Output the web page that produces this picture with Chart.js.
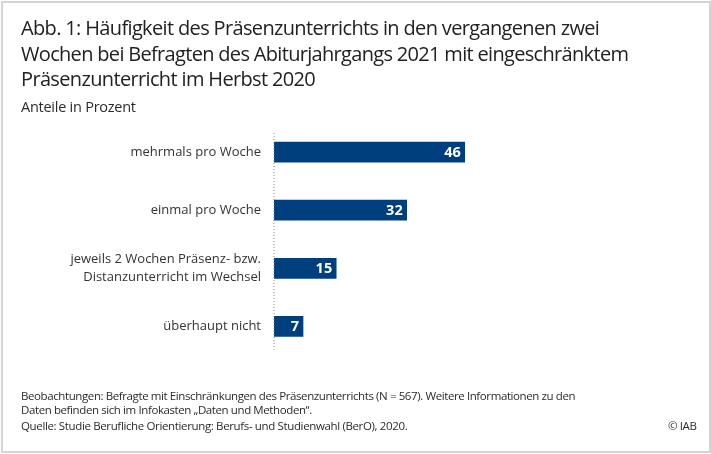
<!DOCTYPE html>
<html lang="de">
<head>
<meta charset="utf-8">
<title>Abb. 1</title>
<script src="https://cdn.jsdelivr.net/npm/chart.js@4"></script>
<style>
  html,body{margin:0;padding:0;background:#fff;}
  body{width:711px;height:454px;position:relative;overflow:hidden;font-family:"Open Sans",sans-serif;color:#2b2b2b;}
  #frame{position:absolute;left:1px;top:1px;width:706px;height:448px;border:2px solid #d4d4d4;}
  #wrap{position:absolute;left:0;top:0;width:711px;height:454px;}
  .t{position:absolute;white-space:nowrap;}
  .title{left:21px;font-size:20px;line-height:27px;letter-spacing:-.65px;color:#222;}
  .sub{left:21px;top:97px;font-size:14.5px;line-height:20px;letter-spacing:-.25px;}
  .note{left:21px;font-size:11.5px;line-height:16px;letter-spacing:-.4px;}
</style>
</head>
<body>
<div id="frame"></div>
<div id="wrap"><canvas id="haeufigkeit" width="711" height="454"></canvas></div>
<div class="t title" style="top:14px">Abb. 1: Häufigkeit des Präsenzunterrichts in den vergangenen zwei</div>
<div class="t title" style="top:40px;letter-spacing:-.68px">Wochen bei Befragten des Abiturjahrgangs 2021 mit eingeschränktem</div>
<div class="t title" style="top:65px">Präsenzunterricht im Herbst 2020</div>
<div class="t sub">Anteile in Prozent</div>
<div class="t note" style="top:388px">Beobachtungen: Befragte mit Einschränkungen des Präsenzunterrichts (N = 567). Weitere Informationen zu den</div>
<div class="t note" style="top:402px">Daten befinden sich im Infokasten „Daten und Methoden“.</div>
<div class="t note" style="top:418px;letter-spacing:-.36px">Quelle: Studie Berufliche Orientierung: Berufs- und Studienwahl (BerO), 2020.</div>
<div class="t note" style="top:418px;left:668px">© IAB</div>
<script>
const kategorien = [
  "mehrmals pro Woche",
  "einmal pro Woche",
  ["jeweils 2 Wochen Präsenz- bzw.", "Distanzunterricht im Wechsel"],
  "überhaupt nicht"
];
const anteile = [46, 32, 15, 7];

// dotted zero line, a bit shorter than the plot area
const nullLinie = {
  id: "nullLinie",
  afterDatasetsDraw(chart) {
    const {ctx, chartArea, scales} = chart;
    const x = scales.x.getPixelForValue(0);
    ctx.save();
    ctx.strokeStyle = "#8a8a8a";
    ctx.lineWidth = 1;
    ctx.setLineDash([1, 2]);
    ctx.beginPath();
    ctx.moveTo(x, chartArea.top + 10);
    ctx.lineTo(x, chartArea.bottom - 6);
    ctx.stroke();
    ctx.restore();
  }
};

// values inside the bar ends
const werte = {
  id: "werte",
  afterDatasetsDraw(chart) {
    const {ctx} = chart;
    ctx.save();
    ctx.fillStyle = "#fff";
    ctx.font = "bold 14.5px 'Open Sans'";
    ctx.textAlign = "right";
    ctx.textBaseline = "middle";
    chart.getDatasetMeta(0).data.forEach((bar, i) => {
      ctx.fillText(anteile[i], bar.x - 4, bar.y + 0.5);
    });
    ctx.restore();
  }
};

new Chart(document.getElementById("haeufigkeit"), {
  type: "bar",
  data: {
    labels: kategorien,
    datasets: [{
      data: anteile,
      backgroundColor: "#003f7d",
      barThickness: 20
    }]
  },
  options: {
    indexAxis: "y",
    responsive: false,
    animation: false,
    layout: {padding: {top: 123, bottom: 98.5, right: 22.4, left: 0}},
    plugins: {legend: {display: false}, tooltip: {enabled: false}},
    scales: {
      x: {min: 0, max: 100, display: false},
      y: {
        afterFit(scale) { scale.width = 274; },
        grid: {display: false},
        border: {display: false},
        ticks: {
          padding: 5,
          color: "#333",
          autoSkip: false,
          font: {family: "'Open Sans'", size: 13, lineHeight: 1.35}
        }
      }
    }
  },
  plugins: [nullLinie, werte]
});
</script>
</body>
</html>
